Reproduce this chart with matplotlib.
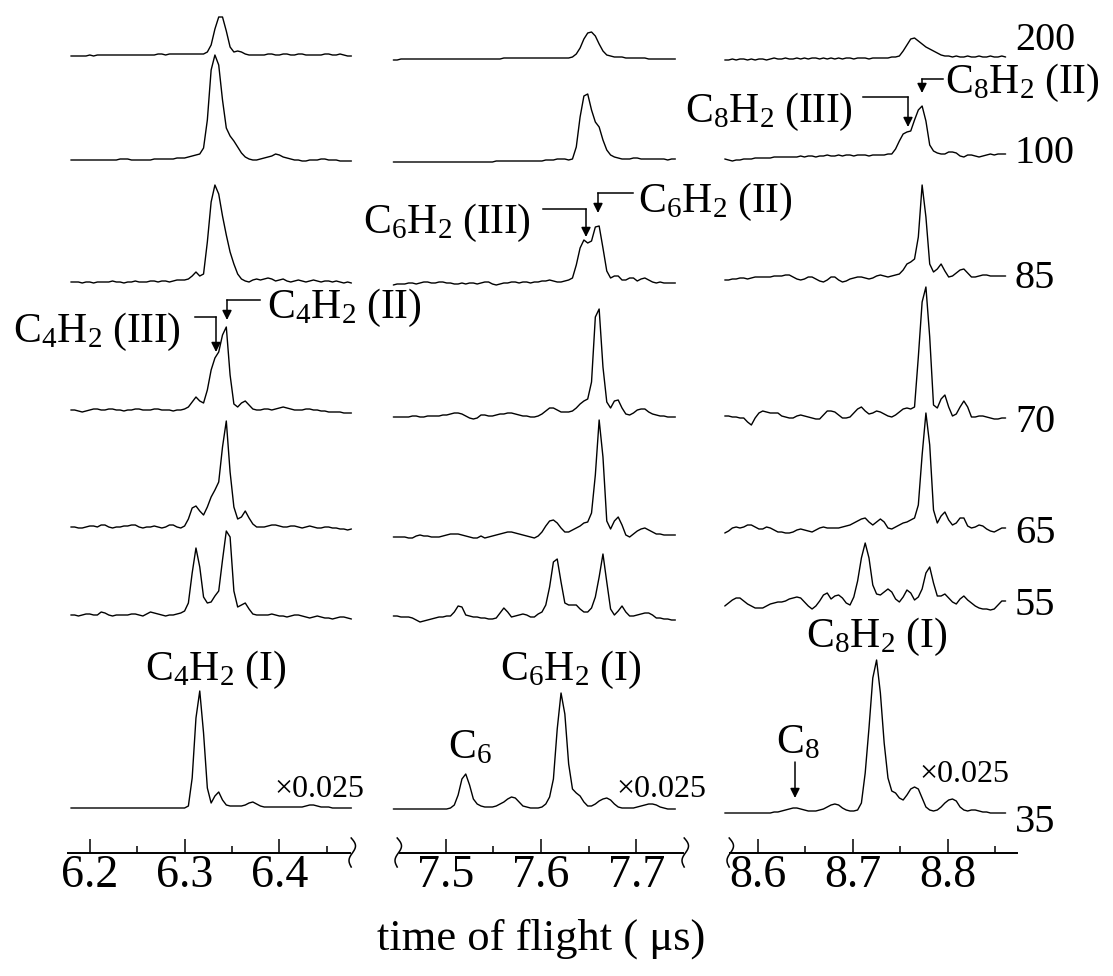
import numpy as np
import matplotlib
matplotlib.use('Agg')
import matplotlib.pyplot as plt
from matplotlib.ticker import MultipleLocator

plt.rcParams['font.family'] = ['Liberation Serif', 'DejaVu Serif']
plt.rcParams['mathtext.fontset'] = 'custom'
plt.rcParams['mathtext.rm'] = 'Liberation Serif'
plt.rcParams['mathtext.it'] = 'Liberation Serif:italic'

W, H = 1113, 976

# photon energies / labels of the stacked traces (top to bottom)
energies = ['200', '100', '85', '70', '65', '55', '35']
t_step = 0.004

# C4H2 window, starts at 6.180 us (signal height)
c4_200 = [-1,-1,-1,-1,-1,0,-1,0,0,0, 0,0,0,0,0,0,0,0,0,0, 0,0,0,1,1,0,1,1,1,1,
          1,1,1,1,1,1,3,10,26,38, 38,24,8,3,4,3,1,0,0,0, 0,0,1,1,0,0,1,1,0,0,
          1,1,0,0,0,0,0,1,1,0, 0,1,0,-1,-1]
c4_100 = [0,0,0,0,0,0,0,0,0,0, 0,0,0,1,1,1,0,0,0,0, 0,0,1,1,1,1,1,1,2,2,
          2,3,4,5,6,12,40,90,105,95, 60,32,24,19,13,7,3,1,0,0, 1,2,3,4,6,5,3,2,1,0,
          0,-1,-1,0,0,0,1,1,0,0, 0,-1,-1,-1,-1]
c4_85 = [0,0,0,-1,0,0,-1,0,0,0, 0,1,0,0,-1,0,0,1,0,0, 0,1,1,0,1,1,0,1,2,2,
         2,3,6,10,6,8,40,80,97,88, 66,47,30,18,8,3,1,0,2,3, 2,3,4,3,1,2,3,1,0,1,
         2,1,0,1,2,1,0,1,1,0, 1,0,-1,0,-1]
c4_70 = [0,0,-1,-2,-1,0,1,1,0,0, 1,1,0,0,-1,0,0,1,1,0, 0,0,1,1,0,0,0,-1,0,0,
         1,3,8,13,9,7,20,40,52,58, 75,83,35,6,3,7,9,5,1,0, 0,1,1,0,1,2,3,2,1,0,
         0,0,1,1,0,0,-1,-1,-2,-2, -2,-2,-3,-3,-3]
c4_65 = [0,0,-1,-1,0,1,1,0,2,2, 0,-1,0,0,1,1,2,2,0,-1, 0,0,1,0,-1,0,2,2,0,-1,
         1,8,19,21,16,12,20,30,37,45, 80,106,55,20,8,10,16,9,3,0, 0,0,1,2,2,1,0,0,1,1,
         0,-1,0,1,0,-1,-1,0,0,-1, -1,-2,-2,-3,-2]
c4_55 = [0,0,-1,0,1,1,0,0,3,2, 0,-1,0,0,0,0,1,1,0,-1, 1,3,2,1,0,-1,0,0,1,2,
         4,12,42,67,48,18,12,13,19,24, 55,84,78,24,8,10,12,6,1,0, 0,0,0,1,0,-1,-1,-2,-1,0,
         0,-1,-2,-3,-2,-1,-2,-3,-3,-4, -3,-2,-2,-3,-4]
c4_35 = [0,0,0,0,0,0,0,0,0,0, 0,0,0,0,0,0,0,0,0,0, 0,0,0,0,0,0,0,0,0,0,
         0,2,30,90,117,75,20,5,12,16, 8,3,2,2,2,2,3,5,6,4, 2,1,1,1,1,1,1,1,1,1,
         1,1,2,3,3,2,1,1,1,0, 0,0,0,0,0]

# C6H2 window, starts at 7.445 us
c6_200 = [-1,-1,0,0,0,0,0,0,0,0, 0,0,0,0,0,0,0,0,0,0, 0,0,0,0,0,0,0,0,0,1,
          1,1,1,1,1,1,1,1,1,1, 1,1,1,1,1,1,1,2,5,11, 20,26,27,23,15,8,4,3,2,2,
          2,1,1,1,1,1,1,0,0,0, 0,0,0,0,0]
c6_100 = [0,0,0,0,0,0,0,0,0,0, 0,0,0,0,0,0,0,0,0,0, 0,0,0,0,0,0,0,1,1,1,
          1,1,1,1,1,1,1,1,1,1, 2,2,2,3,3,3,2,3,15,45, 66,68,52,40,35,22,12,7,5,4,
          3,3,3,4,4,3,3,3,3,3, 3,3,2,3,3]
c6_85 = [-2,-1,-1,-1,0,0,-1,0,1,1, 0,0,1,1,0,0,-1,-1,0,-1, 0,0,-1,0,1,1,-1,-2,-1,0,
         0,1,1,0,1,1,0,1,1,2, 2,3,2,1,1,2,3,5,18,35, 43,40,42,56,57,35,12,5,7,7,
         3,3,5,5,2,4,5,3,1,0, 1,0,0,0,0]
c6_70 = [0,0,0,0,0,1,1,0,0,1, 1,1,1,2,2,3,4,4,3,1, -1,-2,-1,2,2,1,1,2,3,3,
         4,4,3,2,1,1,0,0,1,3, 6,9,9,7,5,5,5,6,9,13, 16,18,35,100,108,50,15,9,16,17,
         9,3,2,4,7,8,8,5,3,2, 1,1,0,0,0]
c6_65 = [-2,-2,-2,-2,-3,-3,-1,0,-1,-1, -2,-2,-2,-1,0,1,1,1,0,-1, -2,-3,-3,-1,-3,-2,-1,0,1,2,
         3,3,2,1,0,-1,-2,-3,-1,3, 9,14,15,12,7,3,3,5,7,9, 12,13,22,60,115,78,14,6,14,18,
         10,0,-2,1,4,6,7,5,3,1, 1,0,0,0,0]
c6_55 = [1,1,0,0,0,-1,-3,-5,-4,-3, -2,-1,0,0,1,1,5,11,10,2, 1,0,0,-1,-1,-2,-2,-1,4,9,
         5,0,1,2,3,2,0,0,3,5, 12,30,55,58,35,14,12,12,12,8, 5,5,9,20,40,63,35,8,2,6,
         11,5,1,1,2,3,4,4,2,-1, -1,-2,-2,-3,-3]
c6_35 = [0,0,0,0,0,0,0,0,0,0, 0,0,0,0,0,1,4,14,30,35, 24,10,5,3,2,2,2,3,5,7,
         10,12,11,7,3,2,1,1,1,2, 5,12,30,80,116,95,45,20,16,13, 7,3,3,5,8,10,11,9,5,2,
         1,1,1,1,2,3,4,5,5,4, 2,1,0,0,0]

# C8H2 window, starts at 8.565 us
c8_200 = [-1,-1,0,-1,0,0,-1,0,-1,0, 0,-1,0,1,0,0,1,0,0,1, 0,1,0,1,1,0,1,0,1,0,
          1,0,1,1,0,1,1,1,0,1, 1,1,1,1,2,2,3,8,14,20, 21,18,15,12,10,8,6,4,3,3,
          2,3,2,2,3,2,2,3,2,2, 3,2,2,3,2]
c8_100 = [-2,-3,-4,-3,-3,-2,-2,-2,-1,-1, -1,-1,-1,0,0,0,0,0,0,0, 1,0,1,1,0,1,1,2,1,1,
          2,1,2,2,1,2,2,2,1,2, 2,2,2,3,3,8,16,23,25,26, 37,47,51,36,12,6,4,3,3,5,
          5,4,1,0,2,2,1,0,1,2, 3,2,3,3,3]
c8_85 = [-3,-3,-2,-2,-1,-1,-2,-1,0,0, 0,0,0,1,1,1,2,2,0,-2, -3,-2,0,0,-2,-4,-5,-3,0,0,
         -3,-5,-4,-2,-1,0,0,-1,-2,-1, 1,2,1,0,1,2,3,7,13,15, 18,40,92,60,13,5,8,13,6,0,
         1,4,7,8,4,0,0,1,2,2, 1,1,1,1,1]
c8_70 = [1,1,0,0,-1,-1,-5,-8,-1,4, 6,5,4,4,4,1,0,-1,-1,1, 2,1,0,-1,-2,-2,2,6,6,5,
         2,-1,-1,0,4,8,10,6,3,4, 6,5,3,1,0,2,5,8,9,8, 10,60,115,130,80,12,9,18,22,10,
         1,3,10,16,10,0,0,1,1,0, -1,-2,-2,-1,-1]
c8_65 = [-3,-1,2,3,2,3,5,5,3,1, 1,3,2,0,-2,-2,-3,-3,-2,0, 1,0,-1,-2,0,2,3,2,2,2,
         2,3,4,5,7,9,11,12,8,5, 8,11,8,2,1,3,5,7,8,10, 12,25,75,117,85,20,7,14,18,10,
         5,7,12,12,4,2,3,5,4,1, -1,-2,0,2,2]
c8_55 = [-3,0,3,5,5,2,-1,-3,-5,-5, -5,-3,-1,0,1,1,2,4,5,6, 5,1,-3,-6,-3,2,8,10,4,7,
         8,5,0,-2,6,22,45,60,45,18, 9,8,11,14,11,4,1,6,13,10, 3,6,14,30,36,20,7,7,9,5,
         1,-1,4,7,3,0,-3,-5,-6,-6, -7,-6,-2,2,2]
c8_35 = [0,0,0,0,0,0,0,0,0,0, 0,0,0,1,1,2,3,4,5,5, 4,3,2,2,2,3,4,6,8,9,
         8,5,3,2,2,3,10,40,85,135, 153,120,70,35,22,20,15,13,18,24, 26,24,15,6,3,2,3,6,10,13,
         14,12,6,3,2,3,3,2,1,1, 0,0,0,0,0]

panels = [
    dict(t0=6.180, traces=[c4_200, c4_100, c4_85, c4_70, c4_65, c4_55, c4_35],
         base=[55, 160, 282, 410, 527, 615, 808],
         xlim=(6.177, 6.4745), ticks=[6.2, 6.3, 6.4], px=(68, 350)),
    dict(t0=7.445, traces=[c6_200, c6_100, c6_85, c6_70, c6_65, c6_55, c6_35],
         base=[59, 162, 283, 417, 535, 617, 809],
         xlim=(7.452, 7.749), ticks=[7.5, 7.6, 7.7], px=(400, 683)),
    dict(t0=8.565, traces=[c8_200, c8_100, c8_85, c8_70, c8_65, c8_55, c8_35],
         base=[59, 157, 277, 417, 530, 603, 813],
         xlim=(8.5705, 8.873), ticks=[8.6, 8.7, 8.8], px=(730, 1017)),
]

AXIS_Y = 853  # pixel row of the time axis

fig = plt.figure(figsize=(W / 100, H / 100), dpi=100)

for p in panels:
    x0, x1 = p['px']
    ax = fig.add_axes([x0 / W, (H - AXIS_Y) / H, (x1 - x0) / W, AXIS_Y / H])
    ax.set_xlim(*p['xlim'])
    ax.set_ylim(AXIS_Y, 0)
    ax.patch.set_visible(False)
    for tr, b in zip(p['traces'], p['base']):
        t = p['t0'] + t_step * np.arange(len(tr))
        ax.plot(t, b - np.array(tr), color='k', lw=1.0, clip_on=False,
                solid_joinstyle='round', solid_capstyle='round')
    for s in ['left', 'right', 'top']:
        ax.spines[s].set_visible(False)
    ax.spines['bottom'].set_linewidth(1.4)
    ax.set_yticks([])
    ax.set_xticks(p['ticks'])
    ax.set_xticklabels([f'{v:.1f}' for v in p['ticks']])
    ax.xaxis.set_minor_locator(MultipleLocator(0.05))
    ax.tick_params(axis='x', which='major', direction='in', length=10, width=1.1,
                   labelsize=33, pad=1)
    ax.tick_params(axis='x', which='minor', direction='in', length=5, width=1.1)

# overlay in pixel coordinates for labels and annotations
ov = fig.add_axes([0, 0, 1, 1])
ov.set_xlim(0, W)
ov.set_ylim(H, 0)
ov.axis('off')
ov.patch.set_visible(False)

# axis breaks
s = np.linspace(0, 1, 40)
for xc in [352, 398, 685, 730]:
    ov.plot(xc + 3.2 * np.sin(2 * np.pi * s) + 1.5 * np.sin(np.pi * s) - 0.8,
            838 + 29 * s, color='k', lw=1.1)

# energies on the right
label_base = [50, 163, 288, 432, 543, 615, 832]
for lab, yb in zip(energies, label_base):
    ov.text(1015, yb, lab, fontsize=29, va='baseline', ha='left')

ov.text(541, 950, 'time of flight ( \u03bcs)', fontsize=32, ha='center', va='baseline')

def mol(n, tag):
    return r'$\mathregular{C_%dH_2}$ (%s)' % (n, tag)

fs = 30
ov.text(13, 342, mol(4, 'III'), fontsize=fs, va='baseline')
ov.text(267, 318, mol(4, 'II'), fontsize=fs, va='baseline')
ov.text(363, 233, mol(6, 'III'), fontsize=fs, va='baseline')
ov.text(638, 212, mol(6, 'II'), fontsize=fs, va='baseline')
ov.text(685, 122, mol(8, 'III'), fontsize=fs, va='baseline')
ov.text(945, 93, mol(8, 'II'), fontsize=fs, va='baseline')
ov.text(216, 680, mol(4, 'I'), fontsize=fs, va='baseline', ha='center')
ov.text(571, 680, mol(6, 'I'), fontsize=fs, va='baseline', ha='center')
ov.text(877, 647, mol(8, 'I'), fontsize=fs, va='baseline', ha='center')
ov.text(470, 758, r'$\mathregular{C_6}$', fontsize=fs, va='baseline', ha='center')
ov.text(798, 753, r'$\mathregular{C_8}$', fontsize=fs, va='baseline', ha='center')
for xl, yb in [(274, 797), (616, 797), (919, 782)]:
    ov.text(xl, yb, '\u00d70.025', fontsize=23, va='baseline', ha='left')

# leader lines with arrows
leaders = [((195, 317), (216, 317), (216, 352)),
           ((260, 300), (227, 300), (227, 320)),
           ((543, 209), (586, 209), (586, 237)),
           ((633, 193), (598, 193), (598, 213)),
           ((863, 97), (908, 97), (908, 127)),
           ((943, 79), (922, 79), (922, 93)),
           ((795, 762), (795, 762), (795, 798))]
for a, b, c in leaders:
    ov.plot([a[0], b[0]], [a[1], b[1]], color='k', lw=1.1)
    ov.annotate('', xy=c, xytext=b,
                arrowprops=dict(arrowstyle='-|>', color='k', lw=1.1,
                                mutation_scale=14, shrinkA=0, shrinkB=0))

fig.savefig('out.png', dpi=100)
